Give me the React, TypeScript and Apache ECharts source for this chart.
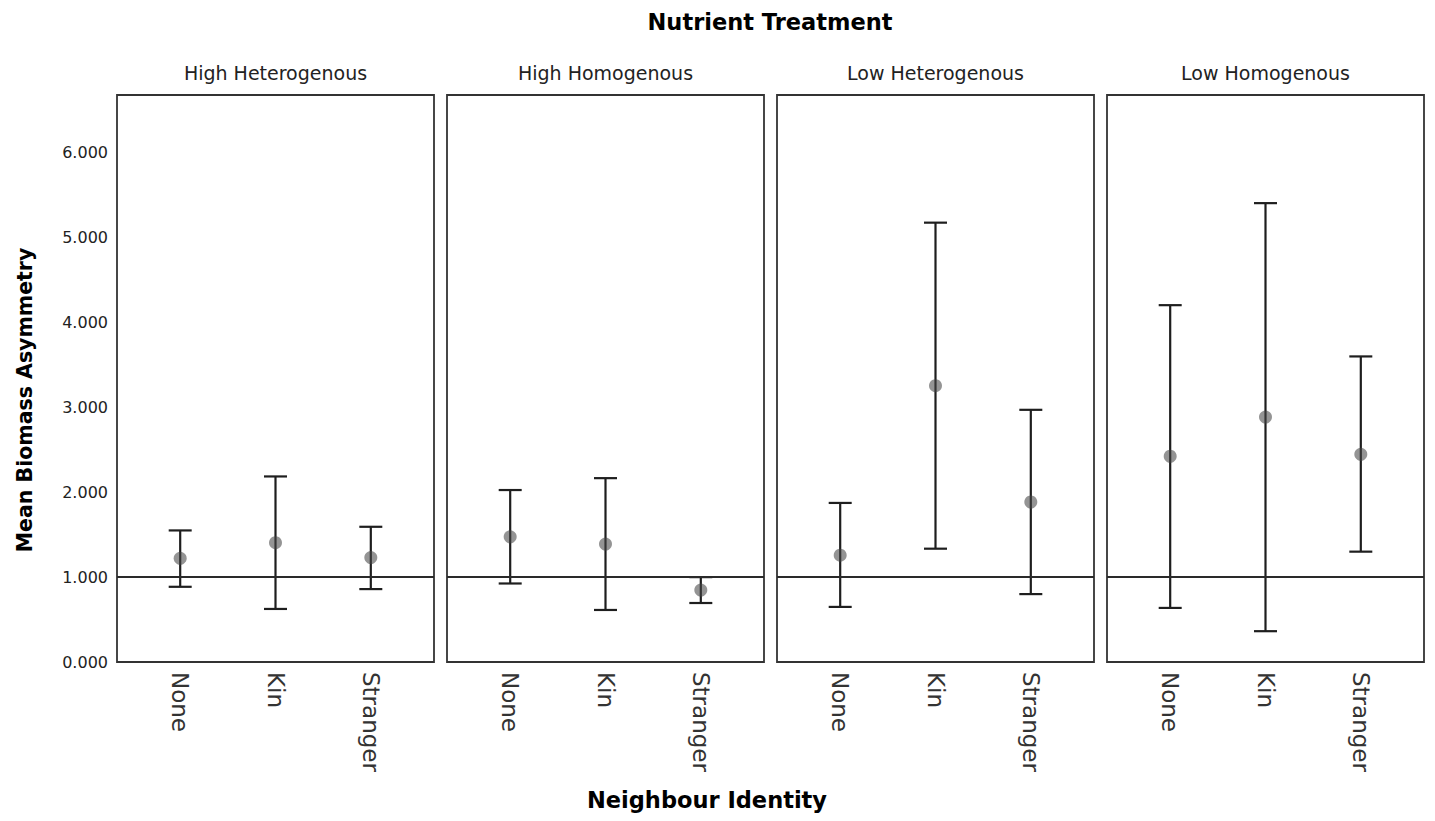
import React, { useEffect, useRef } from "react";
import * as echarts from "echarts";

const categories = ["None", "Kin", "Stranger"];
const panelNames = ["High Heterogenous", "High Homogenous", "Low Heterogenous", "Low Homogenous"];
const meanHighHet = [1.222, 1.405, 1.23];
const meanHighHom = [1.475, 1.39, 0.848];
const meanLowHet = [1.258, 3.255, 1.885];
const meanLowHom = [2.424, 2.885, 2.447];
const lowHighHet = [0.886, 0.625, 0.859];
const lowHighHom = [0.925, 0.613, 0.695];
const lowLowHet = [0.649, 1.335, 0.8];
const lowLowHom = [0.637, 0.363, 1.3];
const upHighHet = [1.55, 2.186, 1.593];
const upHighHom = [2.026, 2.166, 1.0];
const upLowHet = [1.874, 5.176, 2.971];
const upLowHom = [4.204, 5.406, 3.6];
const yTicks = [0, 1, 2, 3, 4, 5, 6];
const referenceValue = 1;

const means = [meanHighHet, meanHighHom, meanLowHet, meanLowHom];
const lows = [lowHighHet, lowHighHom, lowLowHet, lowLowHom];
const ups = [upHighHet, upHighHom, upLowHet, upLowHom];

const FONT = "DejaVu Sans";
const INK = "#222";

export default function App() {
  const ref = useRef<HTMLDivElement>(null);
  useEffect(() => {
    if (!ref.current) return;
    const chart = echarts.init(ref.current, undefined, { renderer: "svg" });
    const gridLefts = [117, 447, 777, 1107];
    const gridW = 317;
    const gridTop = 95;
    const gridH = 567;

    const grids = gridLefts.map((l) => ({
      left: l,
      top: gridTop,
      width: gridW,
      height: gridH,
      show: true,
      borderColor: "#333",
      borderWidth: 1.8,
      backgroundColor: "#fff",
    }));

    const xAxes = gridLefts.map((_, i) => ({
      type: "value",
      gridIndex: i,
      min: -0.663,
      max: 2.663,
      axisLine: { show: false },
      axisTick: { show: false },
      splitLine: { show: false },
      axisLabel: {
        customValues: [0, 1, 2],
        rotate: -90,
        margin: 10,
        fontFamily: FONT,
        fontSize: 23,
        color: "#333",
        formatter: (v: number) => categories[Math.round(v)] ?? "",
      },
    }));

    const yAxes = gridLefts.map((_, i) => ({
      type: "value",
      gridIndex: i,
      min: 0,
      max: 6.68,
      interval: 1,
      axisLine: { show: false },
      axisTick: { show: false },
      splitLine: { show: false },
      axisLabel: {
        show: i === 0,
        customValues: yTicks,
        margin: 9,
        fontFamily: FONT,
        fontSize: 16,
        color: INK,
        formatter: (v: number) => v.toFixed(3),
      },
    }));

    const series: any[] = [];
    for (let i = 0; i < 4; i++) {
      series.push({
        type: "custom",
        xAxisIndex: i,
        yAxisIndex: i,
        data: categories.map((_, j) => [j, lows[i][j], ups[i][j]]),
        renderItem: (params: any, api: any) => {
          const lo = api.coord([api.value(0), api.value(1)]);
          const hi = api.coord([api.value(0), api.value(2)]);
          const hw = 11.5;
          const style = { stroke: "#1e1e1e", lineWidth: 2.2 };
          return {
            type: "group",
            children: [
              { type: "line", shape: { x1: lo[0], y1: lo[1], x2: hi[0], y2: hi[1] }, style },
              { type: "line", shape: { x1: lo[0] - hw, y1: lo[1], x2: lo[0] + hw, y2: lo[1] }, style },
              { type: "line", shape: { x1: hi[0] - hw, y1: hi[1], x2: hi[0] + hw, y2: hi[1] }, style },
            ],
          };
        },
        z: 2,
      });
      series.push({
        type: "scatter",
        xAxisIndex: i,
        yAxisIndex: i,
        data: categories.map((_, j) => [j, means[i][j]]),
        symbolSize: 13,
        itemStyle: { color: "rgba(70,70,70,0.72)" },
        z: 3,
        markLine: {
          silent: true,
          symbol: "none",
          label: { show: false },
          lineStyle: { color: "#2a2a2a", width: 2, type: "solid" },
          data: [{ yAxis: referenceValue }],
        },
      });
    }

    const graphic: any[] = [
      {
        type: "text",
        x: 770,
        y: 22,
        style: {
          text: "Nutrient Treatment",
          font: `bold 22.5px "${FONT}"`,
          fill: "#000",
          align: "center",
          verticalAlign: "middle",
        },
      },
      {
        type: "text",
        x: 707,
        y: 800,
        style: {
          text: "Neighbour Identity",
          font: `bold 22.5px "${FONT}"`,
          fill: "#000",
          align: "center",
          verticalAlign: "middle",
        },
      },
      {
        type: "text",
        x: 25,
        y: 400,
        rotation: Math.PI / 2,
        style: {
          text: "Mean Biomass Asymmetry",
          font: `bold 20.5px "${FONT}"`,
          fill: "#000",
          align: "center",
          verticalAlign: "middle",
        },
      },
      ...panelNames.map((n, i) => ({
        type: "text",
        x: gridLefts[i] + gridW / 2,
        y: 73,
        style: {
          text: n,
          font: `19px "${FONT}"`,
          fill: INK,
          align: "center",
          verticalAlign: "middle",
        },
      })),
    ];

    chart.setOption({
      animation: false,
      backgroundColor: "#fff",
      grid: grids,
      xAxis: xAxes,
      yAxis: yAxes,
      series,
      graphic,
    });
    return () => chart.dispose();
  }, []);
  return (
    <div
      ref={ref}
      style={{ position: "absolute", left: 0, top: 0, width: 1435, height: 821 }}
    />
  );
}
